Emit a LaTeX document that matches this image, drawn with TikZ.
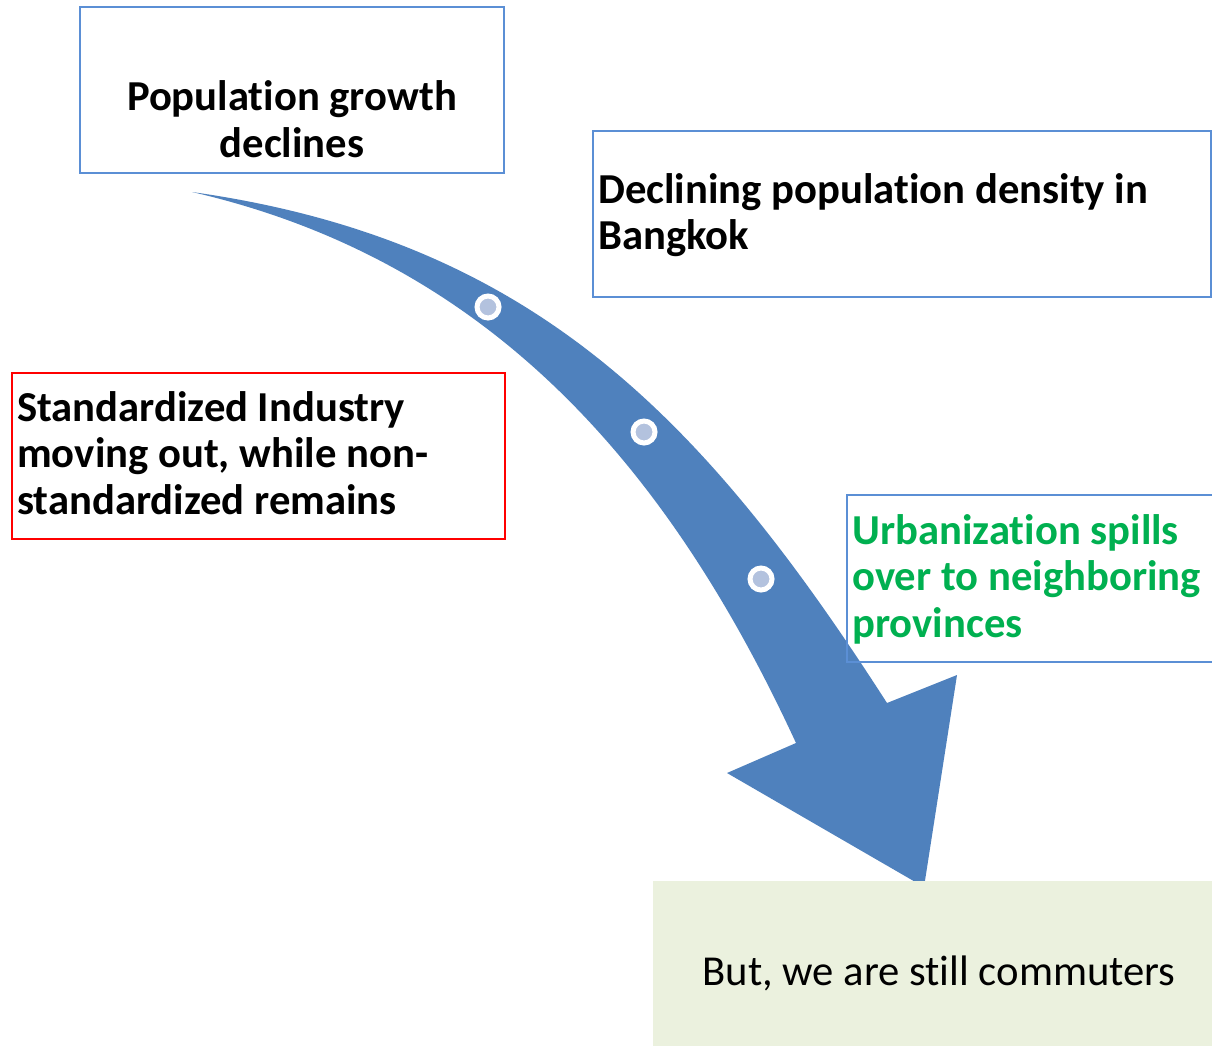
\documentclass[tikz,border=0pt]{standalone}
\usepackage{fontspec}
\setmainfont{Carlito}[Ligatures=NoCommon]
\definecolor{arrowblue}{HTML}{4F81BD}
\definecolor{boxblue}{HTML}{5B8FD5}
\definecolor{dotfill}{HTML}{B3C2DE}
\definecolor{greentext}{HTML}{00B050}
\definecolor{notefill}{HTML}{EBF1DE}
\begin{document}
\begin{tikzpicture}[x=0.75pt,y=-0.75pt,
  bluebox/.style={draw=boxblue,line width=1.5pt,inner sep=0pt,outer sep=0pt},
  redbox/.style={draw=red,line width=1.5pt,inner sep=0pt,outer sep=0pt},
  notebox/.style={fill=notefill,inner sep=0pt,outer sep=0pt},
  label/.style={font=\fontsize{32}{34.9}\selectfont\bfseries,inner sep=0pt},
  plain/.style={font=\fontsize{32}{34.9}\selectfont,inner sep=0pt},
  dot/.style={circle,fill=dotfill,draw=white,line width=3.75pt,minimum size=16.5pt,inner sep=0pt}]
\clip (0,0) rectangle (1212,1045);
\fill[white] (0,0) rectangle (1212,1045);
% curved arrow
\fill[arrowblue] (192,192) .. controls (532,240) and (703,417) .. (887,703)
  -- (957,675) -- (924,887) -- (727,773) -- (796,743)
  .. controls (670,470) and (492,261) .. (192,192) -- cycle;
\node[dot] (d1) at (488,307) {};
\node[dot] (d2) at (644,432) {};
\node[dot] (d3) at (761,579) {};
% boxes
\node[bluebox,minimum width=318pt,minimum height=124.5pt] (b1) at (292,90) {};
\node[label,anchor=north,align=center] (t1) at (292,78) {\strut Population growth\\declines};
\node[bluebox,minimum width=463.5pt,minimum height=124.5pt] (b2) at (902,214) {};
\node[label,anchor=north west,align=left] (t2) at (598,170.5) {\strut Declining population density in\\Bangkok};
\node[redbox,minimum width=369.75pt,minimum height=124.5pt] (b3) at (258.5,456) {};
\node[label,anchor=north west,align=left] (t3) at (17,388.5) {\strut Standardized Industry\\moving out, while non-\\standardized remains};
\node[bluebox,minimum width=291pt,minimum height=125.25pt] (b4) at (1041,578.5) {};
\node[label,anchor=north west,align=left,text=greentext] (t4) at (852,511.5) {\strut Urbanization spills\\over to neighboring\\provinces};
\node[notebox,minimum width=429pt,minimum height=126.75pt] (b5) at (939,965.5) {};
\node[plain,anchor=north] (t5) at (939,952.5) {\strut But, we are still commuters};
\end{tikzpicture}
\end{document}
